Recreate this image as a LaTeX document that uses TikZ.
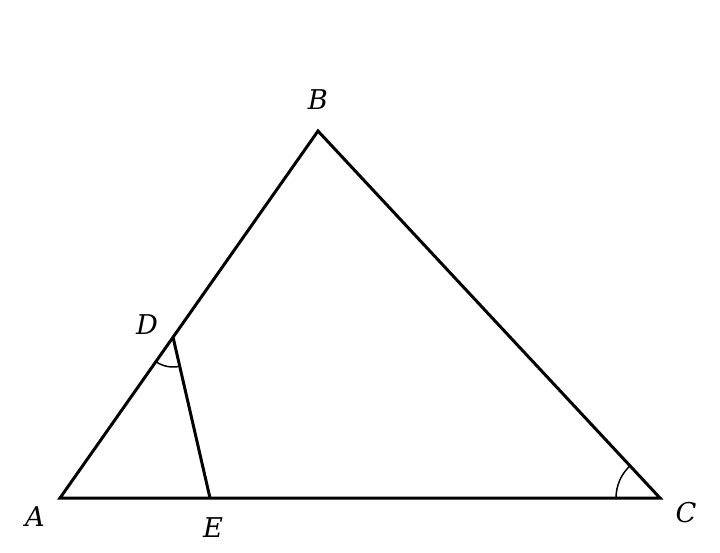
\documentclass[tikz,border=0pt]{standalone}
\usepackage{fontspec}
\setmainfont{DejaVu Serif}
\usetikzlibrary{angles}

\begin{document}
\begin{tikzpicture}[
    x=0.02cm, y=-0.02cm,
    side/.style={line width=1.7pt, line join=miter},
    anglemark/.style={draw, line width=0.85pt},
    lbl/.style={font=\fontsize{15.5}{18}\selectfont\itshape, inner sep=0pt}
]
\useasboundingbox (0,0) rectangle (720,552);

\coordinate (A) at (60,498);
\coordinate (B) at (318,131);
\coordinate (C) at (660,498);
\coordinate (D) at (173,337);
\coordinate (E) at (210,498);

\draw[side] (A) -- (B) -- (C) -- cycle;
\draw[side] (D) -- (E);

\pic[anglemark, angle radius=0.6cm] {angle = A--D--E};
\pic[anglemark, angle radius=0.88cm] {angle = B--C--A};

\node[lbl] (lA) at (35,517) {A};
\node[lbl] (lB) at (318,100) {B};
\node[lbl] (lC) at (686,513) {C};
\node[lbl] (lD) at (147,325) {D};
\node[lbl] (lE) at (213,528) {E};
\end{tikzpicture}
\end{document}
